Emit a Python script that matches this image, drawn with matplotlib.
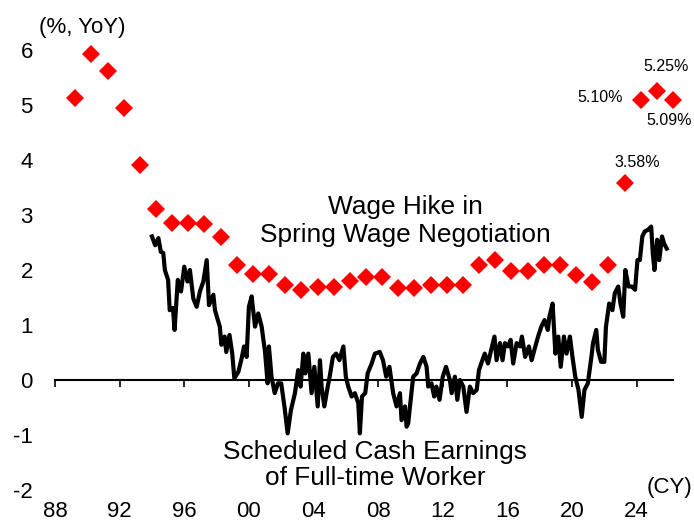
import matplotlib
matplotlib.use("Agg")
import matplotlib.pyplot as plt
import numpy as np

plt.rcParams['font.family'] = ['Liberation Sans', 'DejaVu Sans']

# Spring wage negotiation results (% YoY), plotted around April of each year
hike_years = list(range(1989, 2027))
hike_values = [5.12, 5.92, 5.62, 4.95, 3.90, 3.10, 2.86, 2.86, 2.84, 2.60,
               2.09, 1.93, 1.92, 1.72, 1.64, 1.70, 1.69, 1.80, 1.88, 1.88,
               1.68, 1.68, 1.73, 1.73, 1.73, 2.09, 2.19, 1.99, 1.99, 2.09,
               2.09, 1.91, 1.79, 2.09, 3.58, 5.10, 5.25, 5.09]

# Scheduled cash earnings of full-time workers (% YoY)
earn_t = [1994.0, 1994.2, 1994.4, 1994.55, 1994.7, 1994.8, 1995.0, 1995.1, 1995.3, 1995.4,
          1995.6, 1995.8, 1996.0, 1996.2, 1996.35, 1996.56, 1996.77, 1996.97, 1997.18, 1997.39,
          1997.53, 1997.8, 1997.9, 1998.2, 1998.3, 1998.5, 1998.6, 1998.8, 1998.97, 1999.1,
          1999.35, 1999.55, 1999.7, 1999.86, 2000.0, 2000.17, 2000.38, 2000.58, 2000.79, 2001.0,
          2001.16, 2001.24, 2001.4, 2001.6, 2001.8, 2002.0, 2002.2, 2002.4, 2002.6, 2002.85,
          2003.05, 2003.2, 2003.37, 2003.5, 2003.68, 2003.88, 2004.05, 2004.26, 2004.4, 2004.5,
          2004.67, 2004.88, 2005.0, 2005.2, 2005.4, 2005.6, 2005.85, 2006.0, 2006.15, 2006.36,
          2006.56, 2006.77, 2006.87, 2007.0, 2007.2, 2007.35, 2007.6, 2007.8, 2008.1, 2008.3,
          2008.5, 2008.7, 2008.93, 2009.14, 2009.35, 2009.45, 2009.66, 2009.76, 2009.86, 2009.97,
          2010.17, 2010.38, 2010.59, 2010.8, 2011.0, 2011.1, 2011.3, 2011.47, 2011.6, 2011.8,
          2012.0, 2012.2, 2012.44, 2012.55, 2012.75, 2012.9, 2013.06, 2013.27, 2013.47, 2013.68,
          2013.88, 2014.1, 2014.24, 2014.45, 2014.6, 2014.8, 2015.0, 2015.2, 2015.33, 2015.54,
          2015.7, 2015.85, 2016.05, 2016.2, 2016.36, 2016.57, 2016.78, 2016.9, 2017.1, 2017.33,
          2017.5, 2017.7, 2017.9, 2018.1, 2018.3, 2018.5, 2018.6, 2018.8, 2018.97, 2019.15,
          2019.3, 2019.5, 2019.66, 2019.87, 2020.0, 2020.2, 2020.4, 2020.6, 2020.77, 2020.98,
          2021.2, 2021.3, 2021.5, 2021.6, 2021.8, 2022.0, 2022.1, 2022.3, 2022.5, 2022.65,
          2022.86, 2023.0, 2023.17, 2023.3, 2023.5, 2023.7, 2023.9, 2024.05, 2024.2, 2024.35,
          2024.5, 2024.7, 2024.9, 2025.0, 2025.1, 2025.27, 2025.4, 2025.57, 2025.7, 2025.86]
earn_v = [2.61, 2.45, 2.58, 2.33, 2.31, 2.00, 1.82, 1.27, 1.31, 0.91,
          1.82, 1.61, 2.06, 1.79, 2.00, 1.48, 1.33, 1.61, 1.79, 2.18,
          1.36, 1.55, 1.27, 0.97, 0.64, 0.79, 0.51, 0.82, 0.48, 0.03,
          0.15, 0.39, 0.61, 0.42, 1.33, 1.52, 0.97, 1.21, 0.97, 0.51,
          -0.06, 0.61, 0.06, -0.24, -0.06, -0.06, -0.48, -0.97, -0.55, -0.24,
          0.18, -0.12, 0.48, 0.12, 0.48, -0.24, 0.24, -0.48, 0.36, -0.12,
          -0.48, -0.12, 0.06, 0.42, 0.48, 0.36, 0.61, 0.06, -0.12, -0.30,
          -0.24, -0.42, -0.97, -0.30, -0.24, 0.12, 0.30, 0.48, 0.51, 0.36,
          0.06, 0.24, -0.24, -0.48, -0.24, -0.73, -0.48, -0.85, -0.79, -0.48,
          0.06, 0.12, 0.30, 0.42, 0.24, -0.12, -0.06, -0.30, -0.12, -0.36,
          0.06, 0.24, 0.00, -0.24, 0.06, -0.36, 0.00, -0.12, -0.58, -0.12,
          -0.24, -0.18, 0.18, 0.36, 0.48, 0.30, 0.55, 0.79, 0.36, 0.67,
          0.36, 0.67, 0.61, 0.73, 0.30, 0.67, 0.61, 0.79, 0.42, 0.61,
          0.36, 0.58, 0.79, 0.97, 1.09, 0.91, 1.15, 1.39, 0.48, 0.79,
          0.24, 0.79, 0.48, 0.79, 0.48, 0.06, -0.18, -0.67, -0.18, -0.06,
          0.42, 0.67, 0.91, 0.55, 0.33, 0.33, 0.97, 1.39, 1.27, 1.58,
          1.70, 1.39, 1.15, 2.00, 1.70, 1.70, 1.64, 2.18, 2.18, 2.61,
          2.70, 2.73, 2.79, 2.30, 2.00, 2.55, 2.18, 2.61, 2.48, 2.39]

xtick_years = [1988, 1992, 1996, 2000, 2004, 2008, 2012, 2016, 2020, 2024]
xtick_labels = ['88', '92', '96', '00', '04', '08', '12', '16', '20', '24']
yticks = [-2, -1, 0, 1, 2, 3, 4, 5, 6]

W, H = 694, 526
fig = plt.figure(figsize=(W / 100, H / 100), dpi=100)
ax = fig.add_axes([55 / W, 1 - 490 / H, (673 - 55) / W, (490 - 50) / H])
ax.set_xlim(1988, 2026.25)
ax.set_ylim(-2, 6)

hike_x = np.array(hike_years) + 0.25
ax.plot(hike_x, hike_values, linestyle='none', marker='D', markersize=8.7,
        color='#ff0000', markeredgewidth=0, clip_on=False, zorder=3)
ax.plot(earn_t, earn_v, color='black', linewidth=3.0, solid_joinstyle='round', zorder=4)

for s in ['top', 'right', 'left', 'bottom']:
    ax.spines[s].set_visible(False)

ax.set_yticks(yticks)
ax.set_yticklabels([str(v) for v in yticks])
ax.tick_params(axis='y', length=0, pad=16, labelsize=16)

ax.set_xticks(xtick_years)
ax.set_xticklabels(xtick_labels)
ax.tick_params(axis='x', length=0, pad=8, labelsize=16)

sec = ax.secondary_xaxis(0.25)
sec.set_xticks(xtick_years)
sec.tick_params(axis='x', direction='out', length=5, width=1.2, labelbottom=False)
sec.spines['bottom'].set_linewidth(1.5)

fig.text(82 / W, 1 - 27 / H, '(%, YoY)', ha='center', va='center', fontsize=16)
fig.text(692 / W, 1 - 488 / H, '(CY)', ha='right', va='center', fontsize=16)

fig.text(405 / W, 1 - 221 / H, 'Wage Hike in\nSpring Wage Negotiation', ha='center', va='center',
         fontsize=18.9, linespacing=1.2)
fig.text(375 / W, 1 - 465 / H, 'Scheduled Cash Earnings\nof Full-time Worker', ha='center', va='center',
         fontsize=18.9, linespacing=1.15)

ann = {2023: ('3.58%', (9.5, 14.5), 'center'),
       2024: ('5.10%', (-13, 1.5), 'right'),
       2025: ('5.25%', (6.5, 18), 'center'),
       2026: ('5.09%', (-3, -15), 'center')}
for yr, (txt, off, ha) in ann.items():
    i = hike_years.index(yr)
    ax.annotate(txt, (hike_x[i], hike_values[i]), xytext=off, textcoords='offset points',
                ha=ha, va='center', fontsize=11.5, annotation_clip=False)

fig.savefig('out.png', dpi=100)
